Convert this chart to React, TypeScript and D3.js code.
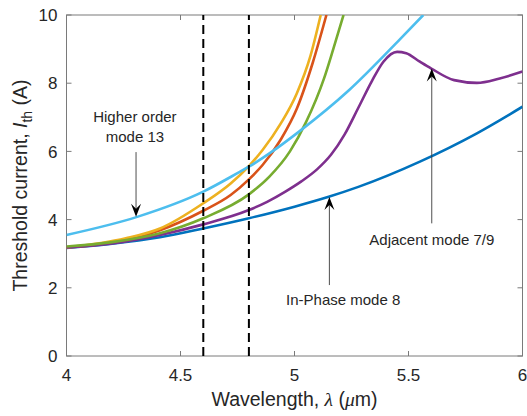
import React from "react";
import * as d3 from "d3";

const width = 527, height = 416,
    margin = { top: 15, right: 4.5, bottom: 60, left: 66.5 };

// axis ticks
const wlTicks = [4, 4.5, 5, 5.5, 6];
const currentTicks = [0, 2, 4, 6, 8, 10];
// vertical dashed markers (um)
const markerWl = [4.6, 4.8];

// In-Phase mode 8
const inPhaseWl = [4.0, 4.2, 4.41, 4.6, 4.8, 5.0, 5.15, 5.28, 5.55, 5.8, 6.0];
const inPhaseI = [3.17, 3.29, 3.48, 3.74, 4.04, 4.38, 4.67, 4.96, 5.7, 6.53, 7.31];

// Adjacent mode 7/9
const adjacentWl = [4.0, 4.2, 4.41, 4.6, 4.8, 4.88, 4.96, 5.03, 5.1, 5.16, 5.22, 5.28, 5.34, 5.39, 5.45, 5.49, 5.55, 5.6, 5.7, 5.8, 5.9, 6.0];
const adjacentI = [3.18, 3.3, 3.55, 3.86, 4.28, 4.52, 4.82, 5.12, 5.48, 5.9, 6.5, 7.28, 8.07, 8.63, 8.92, 8.88, 8.63, 8.43, 8.09, 8.01, 8.14, 8.34];

// other modes
const redWl = [4.0, 4.2, 4.41, 4.6, 4.72, 4.8, 4.86, 4.94, 5.01, 5.08, 5.14];
const redI = [3.18, 3.33, 3.69, 4.26, 4.72, 5.18, 5.6, 6.35, 7.25, 8.6, 10];

const yellowWl = [4.0, 4.26, 4.41, 4.6, 4.72, 4.8, 4.86, 4.94, 5.01, 5.07, 5.115];
const yellowI = [3.18, 3.45, 3.74, 4.48, 5.06, 5.57, 6.04, 6.82, 7.7, 8.8, 10];

const greenWl = [4.0, 4.2, 4.41, 4.6, 4.8, 4.89, 4.98, 5.05, 5.13, 5.17, 5.215];
const greenI = [3.21, 3.34, 3.6, 4.04, 4.74, 5.26, 6.0, 6.85, 8.15, 9.0, 10];

// Higher order mode 13
const higherWl = [4.0, 4.31, 4.6, 4.76, 4.8, 4.89, 5.02, 5.24, 5.46, 5.565];
const higherI = [3.55, 4.08, 4.82, 5.4, 5.55, 5.94, 6.58, 7.8, 9.27, 10];

const series = [
    { wl: inPhaseWl, I: inPhaseI, color: "#0072BD" },
    { wl: redWl, I: redI, color: "#D95319" },
    { wl: yellowWl, I: yellowI, color: "#EDB120" },
    { wl: adjacentWl, I: adjacentI, color: "#7E2F8E" },
    { wl: greenWl, I: greenI, color: "#77AC30" },
    { wl: higherWl, I: higherI, color: "#4DBEEE" },
];

// arrow annotations in data units: x, tail current, tip current
const arrows = [
    { wl: 4.305, from: 5.98, to: 4.08 },
    { wl: 5.153, from: 2.08, to: 4.66 },
    { wl: 5.602, from: 3.89, to: 8.43 },
];

const font = "'Liberation Sans', Arial, Helvetica, sans-serif";
const textColor = "#262626";

const x = d3.scaleLinear().domain([4, 6]).range([margin.left, width - margin.right]);
const y = d3.scaleLinear().domain([0, 10]).range([height - margin.bottom, margin.top]);

const line = d3.line<[number, number]>()
    .x(d => x(d[0]))
    .y(d => y(d[1]))
    .curve(d3.curveMonotoneX);

function Arrow({ wl, from, to }: { wl: number, from: number, to: number }) {
    const ax = x(wl), y0 = y(from), y1 = y(to);
    const dir = y1 > y0 ? 1 : -1; // 1 = pointing down
    const L = 13, hw = 5, notch = 8;
    const head = `M${ax},${y1} L${ax - hw},${y1 - dir * L} L${ax},${y1 - dir * notch} L${ax + hw},${y1 - dir * L} Z`;
    return (
        <g>
            <line x1={ax} x2={ax} y1={y0} y2={y1 - dir * notch} stroke="#3a3a3a" strokeWidth={0.9} />
            <path d={head} fill="#000" />
        </g>
    );
}

export default function App() {
    const [x0, x1] = x.range();
    const [yb, yt] = y.range();
    return (
        <svg width={width} height={height} style={{ position: "absolute", left: 0, top: 0, background: "#fff" }}
            fontFamily={font}>
            <defs>
                <clipPath id="plot-clip">
                    <rect x={x0} y={yt} width={x1 - x0} height={yb - yt} />
                </clipPath>
            </defs>

            {/* box */}
            <rect x={x0} y={yt} width={x1 - x0} height={yb - yt} fill="#fff" stroke="#7a7a7a" strokeWidth={1} />

            {/* ticks on all sides, pointing in */}
            {wlTicks.map(t => (
                <g key={"xt" + t}>
                    <line x1={x(t)} x2={x(t)} y1={yb} y2={yb - 5} stroke="#7a7a7a" />
                    <line x1={x(t)} x2={x(t)} y1={yt} y2={yt + 5} stroke="#7a7a7a" />
                    <text x={x(t)} y={yb + 25} textAnchor="middle" fontSize={17} fill={textColor}>{t}</text>
                </g>
            ))}
            {currentTicks.map(t => (
                <g key={"yt" + t}>
                    <line x1={x0} x2={x0 + 5} y1={y(t)} y2={y(t)} stroke="#7a7a7a" />
                    <line x1={x1} x2={x1 - 5} y1={y(t)} y2={y(t)} stroke="#7a7a7a" />
                    <text x={x0 - 9} y={y(t)} dy="0.36em" textAnchor="end" fontSize={17} fill={textColor}>{t}</text>
                </g>
            ))}

            {/* curves */}
            <g clipPath="url(#plot-clip)">
                {series.map((s, i) => (
                    <path key={i} d={line(s.wl.map((w, j) => [w, s.I[j]] as [number, number])) || ""}
                        fill="none" stroke={s.color} strokeWidth={2.6} strokeLinejoin="round" />
                ))}
            </g>

            {/* dashed markers */}
            {markerWl.map(w => (
                <line key={w} x1={x(w)} x2={x(w)} y1={yb} y2={yt} stroke="#000" strokeWidth={2}
                    strokeDasharray="9,5" />
            ))}

            {/* annotations */}
            {arrows.map((a, i) => <Arrow key={i} {...a} />)}
            <g fontSize={15} fill={textColor}>
                <text x={x(4.3)} y={y(6.87)} textAnchor="middle">Higher order</text>
                <text x={x(4.3)} y={y(6.28)} textAnchor="middle">mode 13</text>
                <text x={x(4.963)} y={y(1.5)}>In-Phase mode 8</text>
                <text x={x(5.328)} y={y(3.26)}>Adjacent mode 7/9</text>
            </g>

            {/* axis labels */}
            <text x={(x0 + x1) / 2} y={405.5} textAnchor="middle" fontSize={19.5} fill={textColor}>
                Wavelength, <tspan fontFamily="'Liberation Serif', 'Times New Roman', serif" fontStyle="italic">λ</tspan> (<tspan fontFamily="'Liberation Serif', 'Times New Roman', serif" fontStyle="italic">μ</tspan>m)
            </text>
            <text transform={`translate(27, ${(yt + yb) / 2}) rotate(-90)`} textAnchor="middle" fontSize={19.5} fill={textColor}>
                Threshold current, <tspan fontStyle="italic">I</tspan><tspan fontSize={14} dy={5}>th</tspan><tspan dy={-5}> (A)</tspan>
            </text>
        </svg>
    );
}
